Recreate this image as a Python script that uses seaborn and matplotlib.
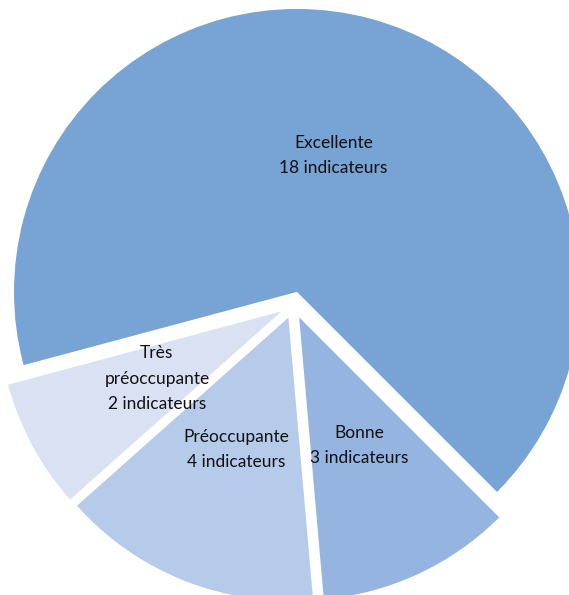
import seaborn as sns
import matplotlib.pyplot as plt

categories = ['Excellente', 'Bonne', 'Préoccupante', 'Très\npréoccupante']
counts = [18, 3, 4, 2]
colors = ['#77A3D5', '#95B5E0', '#B6CBEA', '#DAE1F3']

labels = [f"{c}\n{n} indicateurs" for c, n in zip(categories, counts)]

sns.set_style("white")
plt.rcParams['font.family'] = ['Lato', 'DejaVu Sans']

fig = plt.figure(figsize=(5.69, 5.95), dpi=100)
ax = fig.add_axes([0, 0, 1, 1])

ax.pie(counts, labels=labels, colors=colors, startangle=195, counterclock=False,
       explode=[0.048] * len(counts), labeldistance=0.5, radius=1,
       wedgeprops={'linewidth': 0},
       textprops={'ha': 'center', 'va': 'center', 'fontsize': 12.5,
                  'linespacing': 1.7, 'color': '#111111'})

# place the pie like the reference (centre ~ (293, 305) px, radius ~283 px)
ax.set_xlim(-1.037, 0.974)
ax.set_ylim(-1.025, 1.078)
ax.set_aspect('auto')
ax.axis('off')

fig.savefig('out.png', dpi=100)
